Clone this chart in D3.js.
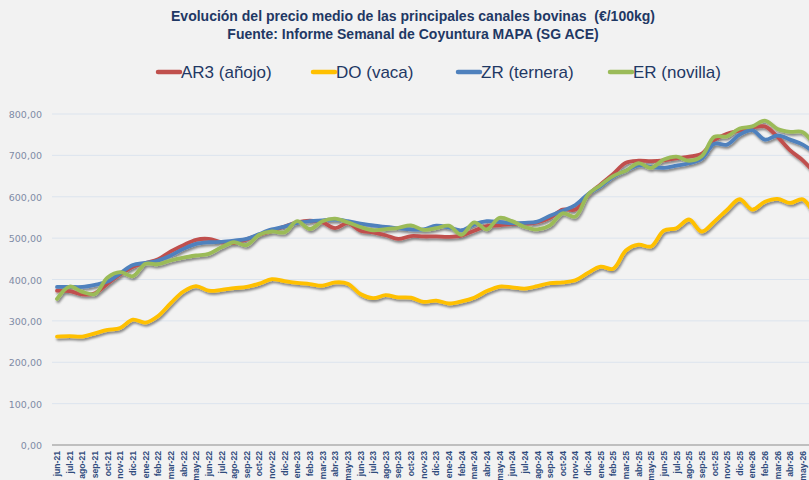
<!DOCTYPE html>
<html>
<head>
<meta charset="utf-8">
<script src="https://cdn.jsdelivr.net/npm/d3@7"></script>
<style>
html,body{margin:0;padding:0;background:#f2f2f2;overflow:hidden;}
svg{display:block;}
text{white-space:pre;}
</style>
</head>
<body>
<svg id="chart" width="809" height="480"></svg>
<script>
const titleLines = ["Evolución del precio medio de las principales canales bovinas  (€/100kg)",
                    "Fuente: Informe Semanal de Coyuntura MAPA (SG ACE)"];
const monthNames = ["jun","jul","ago","sep","oct","nov","dic","ene","feb","mar","abr","may"];
// tick labels jun-21 ... may-26
const tickLabels = [];
for (let i = 0; i < 60; i++) {
  const yr = 21 + Math.floor((i + 5) / 12);
  tickLabels.push(monthNames[i % 12] + "-" + yr);
}
const yTicks = [0,100,200,300,400,500,600,700,800];

const seriesNames = ["AR3 (añojo)","DO (vaca)","ZR (ternera)","ER (novilla)"];
const seriesColors = ["#C0504D","#FFC000","#4F81BD","#9BBB59"];

const ar3 = [373,372,364,367,390,412,431,440,449,468,483,496,498,490,488,497,508,517,528,538,
             542,538,524,536,518,514,507,498,505,504,504,503,506,518,529,531,534,535,538,549,
             569,569,604,630,655,682,687,686,688,693,697,704,737,752,760,767,770,745,712,688,655];
const dov = [262,263,262,270,278,283,303,296,312,343,371,384,373,375,379,382,390,401,396,392,
             389,385,393,390,365,355,362,357,356,346,349,342,347,356,372,383,381,378,384,391,
             393,398,416,431,426,470,484,480,518,524,545,516,540,568,594,569,588,595,585,594,550];
const zr  = [382,382,382,387,395,415,435,440,446,458,474,486,490,491,494,498,510,521,528,537,
             541,543,545,541,535,531,527,524,521,521,530,526,519,533,541,539,536,537,540,554,
             566,580,606,625,648,663,676,672,670,675,681,692,728,726,750,761,738,748,738,726,705];
const er  = [353,383,370,365,405,418,408,438,437,446,453,458,462,478,490,483,508,516,514,541,
             522,541,547,538,527,519,522,525,531,520,524,530,508,538,521,549,541,527,521,531,
             560,552,605,628,650,663,681,670,690,697,687,698,745,746,765,770,784,764,757,756,720];
const seriesData = [ar3, dov, zr, er];

const svg = d3.select("#chart");
const W = 809, H = 480;
const x = d3.scaleLinear().domain([0, 59]).range([57, 802.8]);
const y = d3.scaleLinear().domain([0, 800]).range([445, 114]);

// shadow filter
const defs = svg.append("defs");
const f = defs.append("filter").attr("id","sh").attr("x","-5%").attr("y","-20%").attr("width","110%").attr("height","140%");
f.append("feDropShadow").attr("dx",1.2).attr("dy",2.2).attr("stdDeviation",1.3)
  .attr("flood-color","#000").attr("flood-opacity",0.45);

// title
svg.selectAll("text.title").data(titleLines).join("text")
  .attr("class","title")
  .attr("x", 413).attr("y", (d,i) => 21 + i*18)
  .attr("text-anchor","middle")
  .attr("font-family","'Liberation Sans Narrow','Liberation Sans',Arial,sans-serif")
  .attr("font-weight","bold").attr("font-size", 14)
  .attr("fill","#1F3864")
  .text(d => d);

// legend
const legX = [158, 313, 458, 610];
const leg = svg.selectAll("g.leg").data(seriesNames).join("g")
  .attr("class","leg")
  .attr("transform",(d,i)=>`translate(${legX[i]},72)`);
leg.append("line").attr("x1",0).attr("x2",22).attr("y1",0).attr("y2",0)
  .attr("stroke",(d,i)=>seriesColors[i]).attr("stroke-width",4.5).attr("stroke-linecap","round");
leg.append("text").attr("x",23).attr("y",6)
  .attr("font-family","'Liberation Sans Narrow','Liberation Sans',Arial,sans-serif")
  .attr("font-size",17).attr("fill","#1F3864")
  .text(d=>d);

// gridlines
svg.append("g").selectAll("line").data(yTicks.filter(v=>v>0)).join("line")
  .attr("x1",52).attr("x2",W).attr("y1",d=>y(d)).attr("y2",d=>y(d))
  .attr("stroke","#DCE4EE").attr("stroke-width",1);

// y labels
svg.append("g").selectAll("text").data(yTicks).join("text")
  .attr("x",42).attr("y",d=>y(d)+4)
  .attr("text-anchor","end")
  .attr("font-family","'DejaVu Sans',sans-serif").attr("font-size",9.5)
  .attr("fill","#7F8BA6")
  .text(d=>d3.format(".2f")(d).replace(".",","));

// x axis line
svg.append("line").attr("x1",52).attr("x2",W).attr("y1",y(0)).attr("y2",y(0))
  .attr("stroke","#BFBFBF").attr("stroke-width",2);

// x labels
svg.append("g").selectAll("text").data(tickLabels).join("text")
  .attr("transform",(d,i)=>`translate(${x(i)+3.2},451) rotate(-90)`)
  .attr("text-anchor","end")
  .attr("font-family","'Liberation Sans',Arial,sans-serif").attr("font-weight","bold").attr("font-size",8.6)
  .attr("fill","#2F4B7C")
  .text(d=>d);

// lines
const line = d3.line().x((d,i)=>x(i)).y(d=>y(d)).curve(d3.curveCatmullRom.alpha(0.5));
svg.append("g").attr("filter","url(#sh)")
  .selectAll("path").data(seriesData).join("path")
  .attr("d", d=>line(d))
  .attr("fill","none")
  .attr("stroke",(d,i)=>seriesColors[i])
  .attr("stroke-width",3.8)
  .attr("stroke-linejoin","round").attr("stroke-linecap","round");
</script>
</body>
</html>
